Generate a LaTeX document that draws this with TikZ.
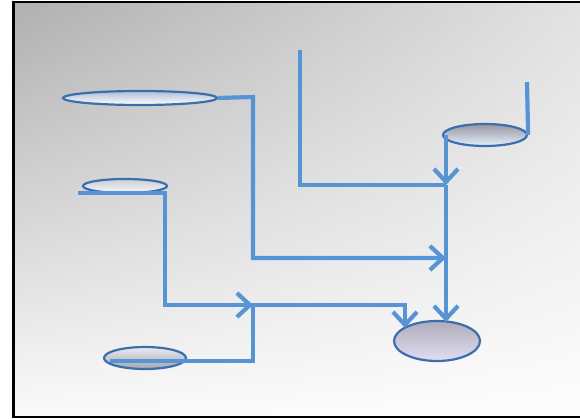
\documentclass[tikz,border=0pt]{standalone}
\usetikzlibrary{shapes.geometric,arrows.meta,fadings}

\definecolor{flowblue}{RGB}{86,148,214}
\definecolor{rimblue}{RGB}{58,110,172}
\definecolor{bgleft}{RGB}{176,176,176}
\definecolor{bgright}{RGB}{226,226,226}

\tikzset{
  blob/.style={ellipse, draw=rimblue, line width=2.2pt, inner sep=0pt},
  flow/.style={draw=flowblue, line width=4.2pt},
  flowarrow/.style={flow, -{Straight Barb[length=13pt,width=24pt]}}
}

\begin{document}
\begin{tikzpicture}[x=1pt,y=-1pt]
  \useasboundingbox (0,0) rectangle (580,419);
  % backdrop: grey to the upper left, white to the lower right
  \fill[white] (0,0) rectangle (580,419);
  \shade[left color=bgleft, right color=bgright] (13.5,2) rectangle (580,417);
  \fill[white, fill opacity=0.95, path fading=north] (13.5,2) rectangle (580,417);
  \draw[black, line width=2.5pt] (580,2) -- (13.5,2) -- (13.5,417) -- (580,417);

  % ellipses
  \node[blob, minimum width=154pt, minimum height=14pt,
        top color={rgb,255:red,175;green,190;blue,212}, bottom color=white]
        (A) at (140,98) {};
  \node[blob, minimum width=84pt, minimum height=22pt,
        top color={rgb,255:red,150;green,150;blue,160}, bottom color={rgb,255:red,230;green,238;blue,252}]
        (B) at (485,135) {};
  \node[blob, minimum width=84pt, minimum height=14pt,
        top color={rgb,255:red,205;green,205;blue,212}, bottom color={rgb,255:red,245;green,246;blue,252}]
        (C) at (125,186) {};
  \node[blob, minimum width=82pt, minimum height=22pt,
        top color={rgb,255:red,235;green,235;blue,240}, bottom color={rgb,255:red,165;green,165;blue,175}]
        (D) at (145,358) {};
  \node[blob, minimum width=86pt, minimum height=40pt,
        top color={rgb,255:red,175;green,172;blue,185}, bottom color={rgb,255:red,225;green,222;blue,245}]
        (E) at (437,341) {};

  % free ends and junctions of the connectors
  \coordinate (topin) at (300,50);
  \coordinate (rightin) at (527,82);
  \coordinate (leftin) at (78,193);
  \coordinate (lowin) at (110,361);
  \coordinate (colA) at (253,97);
  \coordinate (colC) at (165,193);
  \coordinate (jtop) at (446,185);
  \coordinate (jmid) at (446,258);
  \coordinate (jlow) at (253,305);
  \coordinate (eleft) at (405,328);
  \coordinate (eright) at (446,322);

  % connectors
  \draw[flow] (topin) |- (jtop);
  \draw[flow] (rightin) -- (B.east);
  \draw[flowarrow] (B.west -| jtop) -- (jtop);
  \draw[flowarrow] (jtop) -- (eright);
  \draw[flowarrow] (A.east) -- (colA) |- (jmid);
  \draw[flowarrow] (leftin) -- (colC) |- (jlow);
  \draw[flowarrow] (lowin) -| (jlow) -| (eleft);
\end{tikzpicture}
\end{document}
